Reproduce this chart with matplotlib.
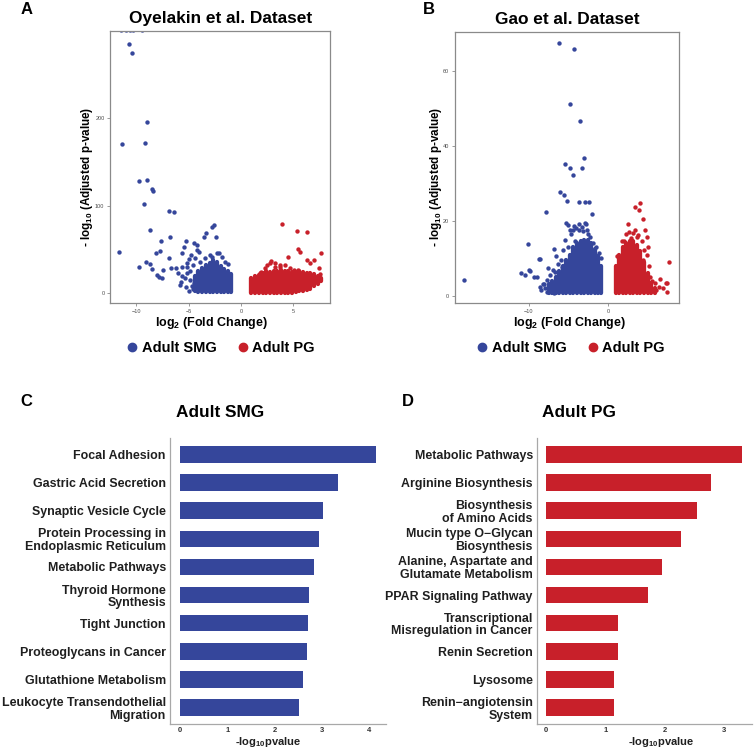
import numpy as np
import matplotlib
matplotlib.use('Agg')
import matplotlib.pyplot as plt
from matplotlib.lines import Line2D

plt.rcParams['font.family'] = ['Liberation Sans', 'DejaVu Sans']
plt.rcParams['mathtext.default'] = 'regular'

BLUE = '#35469B'
RED = '#C8202A'

# ---------------- Panel A (Oyelakin) : individual points (log2FC, -log10 padj)
a_smg_pts = [(-11.4, 300.5), (-11.0, 300.5), (-10.6, 300.5), (-10.3, 300.5), (-9.45, 300.5),
             (-10.67, 285.3), (-10.35, 274.6), (-8.92, 195.8), (-11.36, 170.6), (-9.11, 171.8),
             (-9.68, 128.7), (-8.95, 129.1), (-8.45, 118.9), (-8.35, 117.3), (-9.27, 102.4),
             (-6.86, 94.4), (-6.41, 93.3), (-8.64, 72.7), (-11.59, 47.5), (-7.65, 59.8),
             (-6.76, 64.0), (-9.68, 30.4), (-9.05, 36.1), (-8.67, 33.5), (-8.50, 27.4),
             (-8.1, 46.4), (-7.71, 48.7), (-6.86, 40.7), (-7.4, 26.6), (-8.03, 20.9),
             (-7.78, 18.3), (-7.55, 17.8), (-6.67, 29.3), (-6.19, 29.3), (-5.62, 45.7),
             (-5.43, 52.6), (-5.24, 59.4), (-4.48, 57.1), (-4.16, 55.5), (-4.98, 38.9),
             (-5.11, 35.0), (-5.17, 30.4), (-5.65, 29.7), (-5.97, 22.9), (-5.65, 19.8),
             (-4.22, 49.5), (-3.97, 47.2), (-3.49, 64.0), (-3.33, 69.3), (-2.79, 76.1),
             (-2.54, 78.1), (-2.41, 64.7), (-2.32, 45.7), (-1.84, 41.8), (-5.71, 13.3),
             (-5.24, 7.6), (-4.7, 8.3), (-5.17, 22.9), (-4.75, 44.0), (-4.4, 40.0),
             (-3.9, 36.0), (-4.6, 32.0), (-4.9, 26.0), (-5.3, 18.0), (-4.9, 15.0),
             (-4.6, 5.0), (-4.45, 12.0), (-3.0, 44.0), (-2.1, 46.0), (-1.2, 33.0),
             (-1.5, 36.0), (-2.8, 41.0), (-3.4, 40.0), (-5.8, 9.0), (-5.0, 3.0)]
# dense core of panel A, SMG side: (log2FC, lowest, highest -log10 padj)
a_smg_core = [(-4.4, 3, 20), (-4.05, 1.5, 25), (-3.7, 1.3, 29), (-3.35, 1.3, 32),
              (-3.0, 1.3, 35), (-2.65, 1.3, 38), (-2.3, 1.3, 36), (-1.95, 1.3, 31),
              (-1.6, 1.3, 28), (-1.25, 1.3, 25), (-0.95, 1.3, 22)]
a_pg_pts = [(3.87, 79.2), (5.36, 71.2), (6.31, 70.4), (5.46, 50.6), (5.65, 47.5),
            (7.62, 46.4), (4.5, 41.8), (6.26, 38.0), (6.98, 38.0), (6.6, 34.3),
            (7.43, 28.6), (7.5, 22.0), (2.83, 36.9), (2.45, 32.3), (3.24, 34.3),
            (3.71, 32.3), (1.9, 24.7), (2.29, 28.6), (2.76, 34.3), (3.24, 30.4),
            (3.71, 30.4), (4.19, 32.3), (4.67, 28.6), (5.05, 26.6), (5.46, 26.6),
            (1.43, 19.0), (1.81, 22.9)]
a_pg_core = [(1.0, 0.3, 17), (1.35, 0.3, 20), (1.7, 0.3, 21), (2.05, 0.3, 23),
             (2.4, 0.3, 25), (2.75, 0.3, 24), (3.1, 0.3, 26), (3.45, 0.3, 25),
             (3.8, 0.3, 27), (4.15, 0.3, 25), (4.5, 0.5, 26), (4.85, 0.8, 24),
             (5.2, 1.5, 24), (5.55, 2.5, 25), (5.9, 3.0, 24), (6.25, 3.5, 23),
             (6.6, 5.0, 23), (6.95, 8.0, 22), (7.3, 11.0, 20), (7.6, 14.0, 18)]

# ---------------- Panel B (Gao)
b_smg_pts = [(-6.14, 67.6), (-4.33, 66.1), (-4.79, 51.2), (-3.49, 46.7), (-3.07, 36.8),
             (-5.38, 35.3), (-4.75, 34.3), (-4.41, 32.3), (-3.28, 34.1), (-6.01, 27.8),
             (-5.51, 27.0), (-5.17, 25.4), (-3.62, 25.1), (-2.86, 25.2), (-2.36, 25.2),
             (-2.06, 21.9), (-7.78, 22.3), (-5.3, 19.5), (-5.08, 18.9), (-4.33, 18.7),
             (-2.74, 19.1), (-10.13, 13.8), (-6.85, 12.5), (-8.54, 9.8), (-8.74, 9.7),
             (-18.12, 4.2), (-10.97, 6.2), (-10.43, 5.5), (-9.8, 6.6), (-10.0, 6.8),
             (-9.37, 5.1), (-8.95, 5.1), (-8.54, 2.4), (-8.11, 3.1), (-8.45, 1.5),
             (-7.69, 1.1), (-7.28, 1.4), (-6.85, 0.8), (-4.37, 17.6), (-4.79, 17.6),
             (-3.32, 18.5), (-2.9, 19.4), (-2.69, 17.6), (-5.42, 14.9), (-5.63, 12.2),
             (-4.16, 14.5), (-7.53, 7.3), (-6.68, 6.4), (-5.84, 7.6), (-7.31, 5.5),
             (-7.73, 4.2), (-8.16, 3.1), (-7.94, 2.0), (-7.1, 1.5), (-5.0, 13.0),
             (-4.6, 16.5), (-3.7, 17.5), (-3.2, 17.2), (-2.3, 15.8), (-1.9, 14.2),
             (-1.5, 13.0), (-1.1, 11.5), (-6.3, 8.5), (-6.9, 6.8), (-5.9, 9.6),
             (-4.0, 18.2), (-3.6, 19.1), (-2.5, 16.5), (-0.9, 10.0), (-6.5, 10.5)]
b_smg_core = [(-7.5, 0.8, 3), (-7.05, 0.8, 4), (-6.6, 0.8, 5), (-6.15, 0.8, 6.5),
              (-5.7, 0.8, 8), (-5.25, 0.8, 9.5), (-4.8, 0.8, 11), (-4.35, 0.8, 13),
              (-3.9, 0.8, 14), (-3.45, 0.8, 14.5), (-3.0, 0.8, 15), (-2.55, 0.8, 15),
              (-2.1, 0.8, 14), (-1.65, 0.8, 12.5), (-1.2, 0.8, 10.5), (-0.85, 0.8, 8)]
b_pg_pts = [(4.04, 24.9), (3.4, 23.6), (3.95, 23.0), (4.37, 20.5), (2.56, 19.1),
            (1.72, 14.6), (3.4, 17.6), (3.82, 16.3), (4.66, 17.6), (4.96, 15.8),
            (5.08, 13.1), (7.73, 8.9), (5.3, 5.1), (6.56, 4.4), (7.31, 3.3),
            (7.4, 1.1), (6.47, 2.4), (5.93, 3.3), (7.44, 3.5), (5.6, 4.0),
            (6.0, 1.5), (6.9, 2.0), (5.5, 1.8), (2.3, 16.5), (2.9, 15.5),
            (3.1, 16.8), (4.3, 14.5), (4.6, 12.2), (4.9, 11.0), (4.4, 9.5),
            (5.2, 8.0), (1.2, 10.5), (2.0, 14.5), (2.7, 17.0), (3.6, 15.8)]
b_pg_core = [(0.95, 0.8, 8), (1.4, 0.8, 11), (1.85, 0.8, 13), (2.3, 0.8, 14),
             (2.75, 0.8, 14.5), (3.2, 0.8, 14.5), (3.65, 0.8, 13.5), (4.1, 0.8, 12),
             (4.55, 0.8, 9), (5.0, 0.8, 6), (5.45, 0.8, 3.5), (5.9, 0.8, 2)]

# ---------------- Panels C and D (KEGG enrichment)
smg_terms = ['Focal Adhesion', 'Gastric Acid Secretion', 'Synaptic Vesicle Cycle',
             'Protein Processing in\nEndoplasmic Reticulum', 'Metabolic Pathways',
             'Thyroid Hormone\nSynthesis', 'Tight Junction', 'Proteoglycans in Cancer',
             'Glutathione Metabolism', 'Leukocyte Transendothelial\nMigration']
smg_vals = [4.14, 3.35, 3.03, 2.93, 2.84, 2.72, 2.70, 2.69, 2.59, 2.52]
pg_terms = ['Metabolic Pathways', 'Arginine Biosynthesis', 'Biosynthesis\nof Amino Acids',
            'Mucin type O\u2212Glycan\nBiosynthesis', 'Alanine, Aspartate and\nGlutamate Metabolism',
            'PPAR Signaling Pathway', 'Transcriptional\nMisregulation in Cancer',
            'Renin Secretion', 'Lysosome', 'Renin\u2212angiotensin\nSystem']
pg_vals = [3.31, 2.78, 2.55, 2.28, 1.95, 1.72, 1.22, 1.21, 1.15, 1.14]

W, H = 754, 751
fig = plt.figure(figsize=(W / 100, H / 100), dpi=100)


def rect(l, t, r, b):
    return [l / W, 1 - b / H, (r - l) / W, (b - t) / H]


def volcano(ax, smg_pts, smg_core, pg_pts, pg_core, xlim, ylim, xticks, yticks,
            xlab_x, ylab_x):
    for core, col in ((smg_core, BLUE), (pg_core, RED)):
        cx, lo, hi = zip(*core)
        ax.vlines(cx, lo, hi, colors=col, linewidth=3.1, capstyle='round')
    for pts, col in ((smg_pts, BLUE), (pg_pts, RED)):
        px, py = zip(*pts)
        ax.scatter(px, py, s=10, c=col, linewidths=0)
    ax.set_xlim(*xlim)
    ax.set_ylim(*ylim)
    ax.set_xticks(xticks)
    ax.set_yticks(yticks)
    for sp in ax.spines.values():
        sp.set_color('#8a8a8a')
        sp.set_linewidth(0.9)
    ax.tick_params(length=2.5, width=0.6, color='#8a8a8a', labelsize=4,
                   labelcolor='#4d4d4d', pad=1.5)
    ax.set_xlabel('log$_{2}$ (Fold Change)', fontsize=9, fontweight='bold')
    ax.set_ylabel('- log$_{10}$ (Adjusted p-value)', fontsize=8.4, fontweight='bold')
    ax.xaxis.set_label_coords(xlab_x, -0.0724)
    ax.xaxis.label.set_verticalalignment('center')
    ax.yaxis.set_label_coords(ylab_x, 0.464)
    ax.yaxis.label.set_verticalalignment('center')


axA = fig.add_axes(rect(110, 31, 330, 303))
volcano(axA, a_smg_pts, a_smg_core, a_pg_pts, a_pg_core, (-12.48, 8.48), (-11.1, 299.8),
        [-10, -5, 0, 5], [0, 100, 200], 0.4636, -0.1045)
axB = fig.add_axes(rect(454.7, 31.7, 678.7, 303.3))
volcano(axB, b_smg_pts, b_smg_core, b_pg_pts, b_pg_core, (-19.33, 8.92), (-2.04, 70.65),
        [-10, 0], [0, 20, 40, 60], 0.5125, -0.0835)

for ax, cx in ((axA, 220), (axB, 570)):
    handles = [Line2D([], [], marker='o', ls='', color=BLUE, markersize=6),
               Line2D([], [], marker='o', ls='', color=RED, markersize=6)]
    ax.legend(handles, ['Adult SMG', 'Adult PG'], loc='center',
              bbox_to_anchor=(cx / W, 1 - 348.3 / H), bbox_transform=fig.transFigure,
              ncol=2, frameon=False, prop={'weight': 'bold', 'size': 10.5},
              handletextpad=0.15, columnspacing=1.3, handlelength=1.0, borderpad=0)


def bars(ax, terms, vals, col, xlim, xticks, xlab_x):
    pos = np.arange(1, len(terms) + 1)
    ax.barh(pos, vals, height=0.6, color=col)
    ax.set_ylim(10.6, 0.4)
    ax.set_xlim(*xlim)
    ax.set_yticks(pos)
    ax.set_yticklabels(terms, fontsize=8.9, fontweight='bold', color='#1f1f1f',
                       linespacing=1.1)
    ax.set_xticks(xticks)
    ax.set_xticklabels([str(t) for t in xticks], fontsize=5.5, fontweight='bold',
                       color='#333333')
    for s in ('top', 'right'):
        ax.spines[s].set_visible(False)
    for s in ('left', 'bottom'):
        ax.spines[s].set_color('#a8a8a8')
        ax.spines[s].set_linewidth(0.9)
    ax.tick_params(axis='y', length=0, pad=3.2)
    ax.tick_params(axis='x', length=0, pad=2.5)
    ax.set_xlabel('-log$_{10}$pvalue', fontsize=8, fontweight='bold', color='#1f1f1f')
    ax.xaxis.set_label_coords(xlab_x, -0.062)
    ax.xaxis.label.set_verticalalignment('center')


axC = fig.add_axes(rect(170.3, 438, 386, 724))
bars(axC, smg_terms, smg_vals, BLUE, (-0.205, 4.355), [0, 1, 2, 3, 4], 0.453)
axD = fig.add_axes(rect(537.3, 438, 752, 724))
bars(axD, pg_terms, pg_vals, RED, (-0.152, 3.48), [0, 1, 2, 3], 0.576)

# titles
for x, y, t in ((221, 19, 'Oyelakin et al. Dataset'), (567.3, 19, 'Gao et al. Dataset'),
                (220.5, 412.7, 'Adult SMG'), (578.7, 412.7, 'Adult PG')):
    fig.text(x / W, 1 - y / H, t, ha='center', va='center', fontsize=12.4,
             fontweight='bold')
# panel letters
for x, y, t in ((27, 10, 'A'), (428.7, 10, 'B'), (26.5, 401, 'C'), (408, 401, 'D')):
    fig.text(x / W, 1 - y / H, t, ha='center', va='center', fontsize=12,
             fontweight='bold')

fig.savefig('out.png', dpi=100, facecolor='white')
